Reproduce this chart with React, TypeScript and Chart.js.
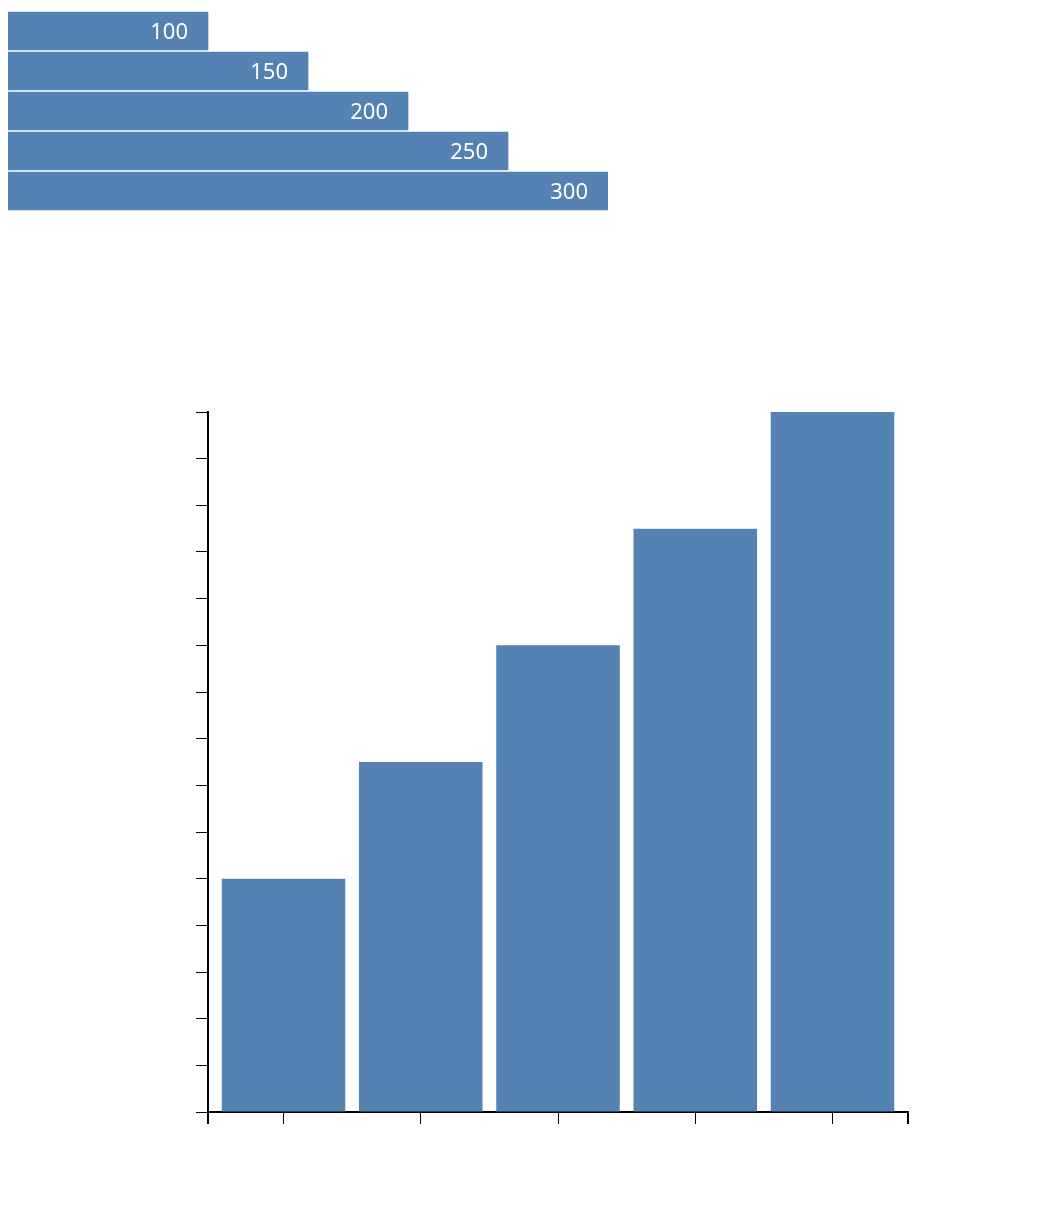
import React, { useEffect, useRef } from "react";
import { Chart, registerables } from "chart.js";

Chart.register(...registerables);

const values: number[] = [100, 150, 200, 250, 300];
const categories: string[] = ["a", "b", "c", "d", "e"];
const xPositions: number[] = [0, 1, 2, 3, 4];
const yTickStep = 20;
const yMax = 300;
const xMin = -0.55;
const xMax = 4.55;

const BAR_COLOR = "rgb(84,130,178)";
const FONT = '"Noto Sans", "DejaVu Sans", sans-serif';

const labelPlugin = {
  id: "barLabels",
  afterDatasetsDraw(chart: any) {
    const ctx = chart.ctx;
    const meta = chart.getDatasetMeta(0);
    ctx.save();
    ctx.fillStyle = "#ffffff";
    ctx.font = `22px ${FONT}`;
    ctx.textAlign = "right";
    ctx.textBaseline = "middle";
    meta.data.forEach((el: any, i: number) => {
      ctx.fillText(String(values[i]), el.x - 20, el.y + 2);
    });
    ctx.restore();
  },
};

const outerTicksPlugin = {
  id: "outerTicks",
  afterDraw(chart: any) {
    const xs = chart.scales.x;
    const ctx = chart.ctx;
    ctx.save();
    ctx.strokeStyle = "#000";
    ctx.lineWidth = 2;
    ctx.beginPath();
    [xs.left, xs.right].forEach((px: number) => {
      ctx.moveTo(px, xs.top);
      ctx.lineTo(px, xs.top + 12);
    });
    ctx.stroke();
    ctx.restore();
  },
};

export default function App() {
  const topRef = useRef<HTMLCanvasElement>(null);
  const bottomRef = useRef<HTMLCanvasElement>(null);

  useEffect(() => {
    const c1 = new Chart(topRef.current as HTMLCanvasElement, {
      type: "bar",
      data: {
        labels: categories,
        datasets: [
          {
            data: values,
            backgroundColor: BAR_COLOR,
            barThickness: 38,
          },
        ],
      },
      options: {
        indexAxis: "y",
        responsive: false,
        animation: false,
        layout: { padding: { top: 3, left: 0, right: 434, bottom: 17 } },
        plugins: { legend: { display: false }, tooltip: { enabled: false } },
        scales: {
          x: { type: "linear", min: 0, max: 300, display: false },
          y: { type: "category", display: false },
        },
      },
      plugins: [labelPlugin],
    });

    const c2 = new Chart(bottomRef.current as HTMLCanvasElement, {
      type: "bar",
      data: {
        datasets: [
          {
            data: xPositions.map((x, i) => ({ x, y: values[i] })),
            backgroundColor: BAR_COLOR,
            categoryPercentage: 1,
            barPercentage: 0.9,
          },
        ],
      },
      options: {
        responsive: false,
        animation: false,
        layout: { padding: { top: 24, left: 188, right: 134, bottom: 64 } },
        plugins: { legend: { display: false }, tooltip: { enabled: false } },
        scales: {
          x: {
            type: "linear",
            min: xMin,
            max: xMax,
            offset: false,
            afterBuildTicks(scale: any) {
              scale.ticks = xPositions.map((v) => ({ value: v }));
            },
            ticks: { display: false },
            grid: {
              offset: false,
              drawOnChartArea: false,
              drawTicks: true,
              tickLength: 12,
              color: "#000",
              lineWidth: 1,
            },
            border: { display: true, color: "#000", width: 2 },
          },
          y: {
            type: "linear",
            min: 0,
            max: yMax,
            ticks: { display: false, stepSize: yTickStep },
            grid: {
              drawOnChartArea: false,
              drawTicks: true,
              tickLength: 12,
              color: "#000",
              lineWidth: 1,
            },
            border: { display: true, color: "#000", width: 2 },
          },
        },
      },
      plugins: [outerTicksPlugin],
    });

    return () => {
      c1.destroy();
      c2.destroy();
    };
  }, []);

  return (
    <div style={{ position: "relative", width: 1034, height: 1224 }}>
      <canvas
        ref={topRef}
        width={1034}
        height={220}
        style={{ position: "absolute", left: 0, top: 0 }}
      />
      <canvas
        ref={bottomRef}
        width={1034}
        height={800}
        style={{ position: "absolute", left: 0, top: 380 }}
      />
    </div>
  );
}
